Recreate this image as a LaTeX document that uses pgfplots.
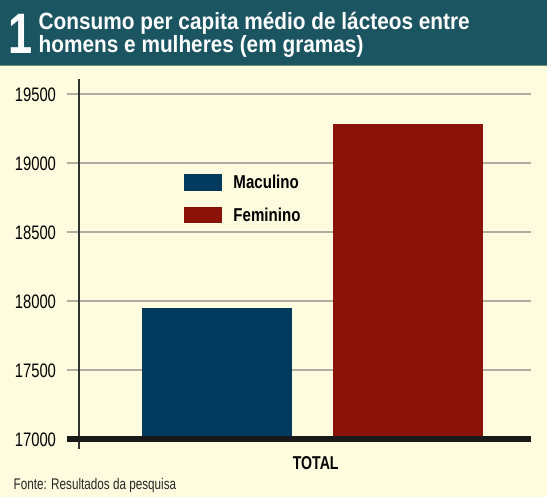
\documentclass[border=0pt]{standalone}
\usepackage{fontspec}
\setmainfont[FakeStretch=0.76]{Liberation Sans}
\newfontfamily\titlefont[FakeStretch=0.885]{Liberation Sans}
\newfontfamily\legfont[FakeStretch=0.81]{Liberation Sans}
\usepackage{pgfplots}
\pgfplotsset{compat=1.18}
\definecolor{banner}{RGB}{27,85,97}
\definecolor{bannerline}{RGB}{110,140,128}
\definecolor{cream}{RGB}{255,251,222}
\definecolor{blueb}{RGB}{2,58,94}
\definecolor{redb}{RGB}{139,18,9}
\definecolor{gridc}{RGB}{176,174,162}
\definecolor{axc}{RGB}{50,50,50}
\begin{document}
\begin{tikzpicture}
\useasboundingbox (0,0) rectangle (547pt,497pt);
\fill[cream] (0,0) rectangle (547pt,497pt);
\fill[banner] (0,431.3pt) rectangle (547pt,497pt);
\draw[bannerline, line width=1pt] (0,431.3pt) -- (547pt,431.3pt);
\node[anchor=base west, text=white, font=\bfseries\fontsize{57}{57}\selectfont, inner sep=0pt] at (8pt,443.7pt) {1};
\node[anchor=base west, text=white, font=\titlefont\bfseries\fontsize{23.5}{24}\selectfont, inner sep=0pt] at (38.5pt,467.7pt) {Consumo per capita médio de lácteos entre};
\node[anchor=base west, text=white, font=\titlefont\bfseries\fontsize{23.5}{24}\selectfont, inner sep=0pt] at (38.5pt,444.3pt) {homens e mulheres (em gramas)};
\begin{axis}[
  at={(66.7pt,58pt)}, anchor=south west, scale only axis,
  width=464.3pt, height=361pt,
  xmin=-245.6, xmax=218.7, ymin=17000, ymax=19613.7,
  axis line style={draw=none}, tick style={draw=none},
  ytick={17000,17500,18000,18500,19000,19500},
  scaled y ticks=false,
  ymajorgrids, grid style={gridc, line width=2pt},
  xtick={0}, xticklabels={TOTAL},
  ybar, bar width=150.5pt,
  /pgf/number format/assume math mode=true,
  /pgf/number format/1000 sep={},
  yticklabel style={font=\fontsize{19.5}{20}\selectfont, anchor=east, inner sep=0pt, xshift=-10.5pt, yshift=-1pt,
    /pgf/number format/fixed, /pgf/number format/precision=0},
  xticklabel style={font=\bfseries\fontsize{18.6}{19}\selectfont, anchor=north, inner sep=0pt, yshift=-12.7pt, xshift=3.4pt},
  legend style={draw=none, fill=none, at={(axis cs:-128.3,18920)}, anchor=north west,
    inner sep=0pt, font=\legfont\bfseries\fontsize{18.6}{19}\selectfont, row sep=16pt, column sep=11.3pt,
    nodes={inner sep=0pt}},
  legend cell align=left,
  legend image code/.code={\fill[#1] (0pt,-8.35pt) rectangle (38pt,8.35pt);},
]
\addplot[fill=blueb, draw=none, bar shift=-95.5pt] coordinates {(0,17952)};
\addlegendentry{Maculino}
\addplot[fill=redb, draw=none, bar shift=95.5pt] coordinates {(0,19280)};
\addlegendentry{Feminino}
\end{axis}
\draw[line width=2pt, axc] (78.7pt,48pt) -- (78.7pt,418pt);
\draw[line width=6pt, black!90] (66.7pt,57.5pt) -- (531pt,57.5pt);
\node[anchor=base west, inner sep=0pt, font=\fontsize{15.4}{15}\selectfont, text=black!85] at (13.5pt,7pt) {Fonte: Resultados da pesquisa};
\end{tikzpicture}
\end{document}
